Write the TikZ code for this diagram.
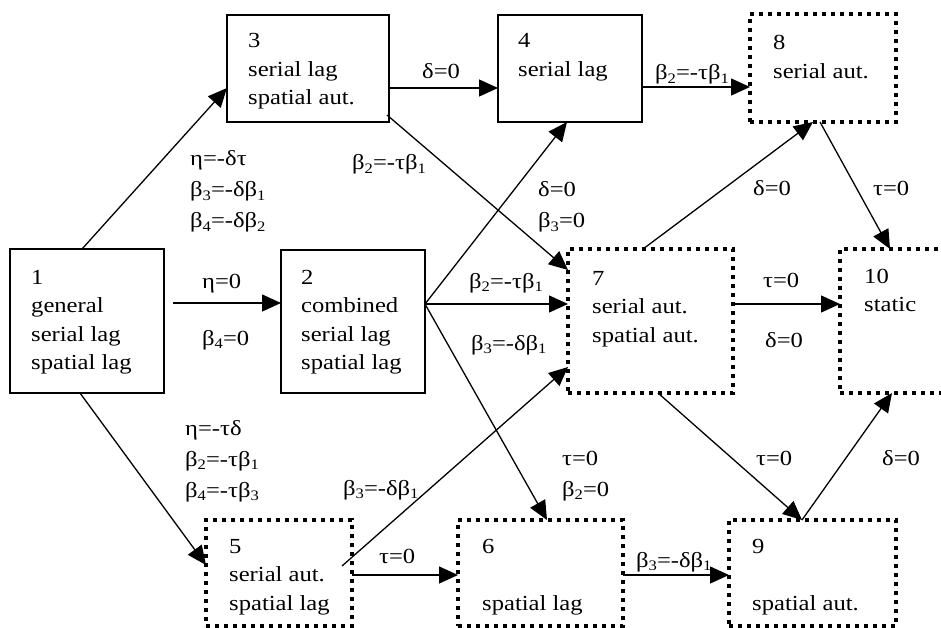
\documentclass[tikz,border=0pt]{standalone}
\usepackage{fontspec}
\setmainfont{Liberation Serif}[FakeStretch=1.145]
\usetikzlibrary{arrows.meta,calc}
\newcommand\sbs[1]{\raisebox{-0.18em}{\fontsize{14.5}{14.5}\selectfont #1}}
\newcommand\blines[1]{\begin{tabular}[t]{@{}l@{}}#1\end{tabular}}
\tikzset{
  sbox/.style={draw, line width=1.3pt, rectangle, inner sep=0pt, outer sep=0pt, anchor=north west},
  dbox/.style={draw, line width=4pt, dash pattern=on 4pt off 5pt, rectangle, inner sep=0pt, outer sep=0pt, anchor=north west},
  txt/.style={anchor=base west, inner sep=0pt, font=\fontsize{21.5}{28.5}\selectfont},
  lab/.style={anchor=base west, inner sep=0pt, font=\fontsize{21.5}{31}\selectfont},
  arr/.style={line width=1.3pt, -{Triangle[length=19pt,width=17pt]}}
}
\begin{document}
\begin{tikzpicture}[x=1pt,y=-1pt]
\useasboundingbox (0,0) rectangle (941,628);
% boxes
\node[sbox, minimum width=154pt, minimum height=144pt] (b1) at (10,249) {};
\node[sbox, minimum width=144pt, minimum height=143pt] (b2) at (281,250) {};
\node[sbox, minimum width=162pt, minimum height=107pt] (b3) at (227,15) {};
\node[sbox, minimum width=144pt, minimum height=107pt] (b4) at (498,15) {};
\node[dbox, minimum width=146pt, minimum height=108pt] (b8) at (750,14) {};
\node[dbox, minimum width=165pt, minimum height=144pt] (b7) at (568,249) {};
\node[dbox, minimum width=112pt, minimum height=144pt] (b10) at (840,249) {};
\node[dbox, minimum width=146pt, minimum height=106pt] (b5) at (206,520) {};
\node[dbox, minimum width=165pt, minimum height=106pt] (b6) at (458,520) {};
\node[dbox, minimum width=167pt, minimum height=106pt] (b9) at (729,520) {};
% box texts
\node[txt] (t1) at (31,284) {\blines{1\\general\\serial lag\\spatial lag}};
\node[txt] (t2) at (301,284) {\blines{2\\combined\\serial lag\\spatial lag}};
\node[txt] (t3) at (248,48) {\blines{3\\serial lag\\spatial aut.}};
\node[txt] (t4) at (518,48) {\blines{4\\serial lag}};
\node[txt] (t8) at (773,50) {\blines{8\\serial aut.}};
\node[txt] (t7) at (592,285) {\blines{7\\serial aut.\\spatial aut.}};
\node[txt] (t10) at (864,283) {\blines{10\\static}};
\node[txt] (t5) at (229,553) {\blines{5\\serial aut.\\spatial lag}};
\node[txt] (t6) at (482,553) {\blines{6\\ \\spatial lag}};
\node[txt] (t9) at (752,553) {\blines{9\\ \\spatial aut.}};
% connectors
\draw[arr] ($(b1.north west)+(72,0)$) -- ($(b3.north west)+(0,73)$);
\draw[arr] ($(b1.north east)+(9,54)$) -- ($(b2.north west)+(0,53)$);
\draw[arr] ($(b1.south west)+(70,0)$) -- ($(b5.north west)+(0,45)$);
\draw[arr] ($(b3.north east)+(0,73)$) -- ($(b4.north west)+(0,73)$);
\draw[arr] ($(b3.south east)+(-2,-7)$) -- ($(b7.north west)+(0,21)$);
\draw[arr] ($(b2.north east)+(0,54)$) -- ($(b4.south west)+(69,0)$);
\draw[arr] ($(b2.north east)+(0,54)$) -- ($(b7.north west)+(0,55)$);
\draw[arr] ($(b2.north east)+(0,54)$) -- ($(b6.north west)+(89,0)$);
\draw[arr] ($(b5.north east)+(-10,46)$) -- ($(b7.north west)+(0,118)$);
\draw[arr] ($(b5.north east)+(0,55)$) -- ($(b6.north west)+(0,55)$);
\draw[arr] ($(b4.north east)+(0,72)$) -- ($(b8.north west)+(0,73)$);
\draw[arr] ($(b7.north west)+(75,0)$) -- ($(b8.south west)+(63,0)$);
\draw[arr] ($(b8.south west)+(70,0)$) -- ($(b10.north west)+(50,0)$);
\draw[arr] ($(b7.north east)+(0,55)$) -- ($(b10.north west)+(0,55)$);
\draw[arr] ($(b7.south west)+(90,0)$) -- ($(b9.north west)+(73,0)$);
\draw[arr] ($(b9.north west)+(73,0)$) -- ($(b10.south west)+(52,0)$);
\draw[arr] ($(b6.north east)+(0,55)$) -- ($(b9.north west)+(0,55)$);
% labels
\node[lab] (l13) at (190,166) {\blines{η=-δτ\\β\sbs{3}=-δβ\sbs{1}\\β\sbs{4}=-δβ\sbs{2}}};
\node[lab] (l12a) at (202,288) {η=0};
\node[lab] (l12b) at (202,345) {β\sbs{4}=0};
\node[lab] (l15) at (185,435) {\blines{η=-τδ\\β\sbs{2}=-τβ\sbs{1}\\β\sbs{4}=-τβ\sbs{3}}};
\node[lab] (l34) at (422,79) {δ=0};
\node[lab] (l37) at (352,170) {β\sbs{2}=-τβ\sbs{1}};
\node[lab] (l24) at (538,197) {\blines{δ=0\\β\sbs{3}=0}};
\node[lab] (l27) at (469,288) {β\sbs{2}=-τβ\sbs{1}};
\node[lab] (l27b) at (471,350) {β\sbs{3}=-δβ\sbs{1}};
\node[lab] (l48) at (655,80) {β\sbs{2}=-τβ\sbs{1}};
\node[lab] (l78) at (753,196) {δ=0};
\node[lab] (l810) at (873,196) {τ=0};
\node[lab] (l710a) at (763,287) {τ=0};
\node[lab] (l710b) at (765,347) {δ=0};
\node[lab] (l26) at (562,465) {\blines{τ=0\\β\sbs{2}=0}};
\node[lab] (l57) at (343,495) {β\sbs{3}=-δβ\sbs{1}};
\node[lab] (l56) at (379,563) {τ=0};
\node[lab] (l69) at (636,567) {β\sbs{3}=-δβ\sbs{1}};
\node[lab] (l79) at (756,465) {τ=0};
\node[lab] (l910) at (882,465) {δ=0};
\end{tikzpicture}
\end{document}
